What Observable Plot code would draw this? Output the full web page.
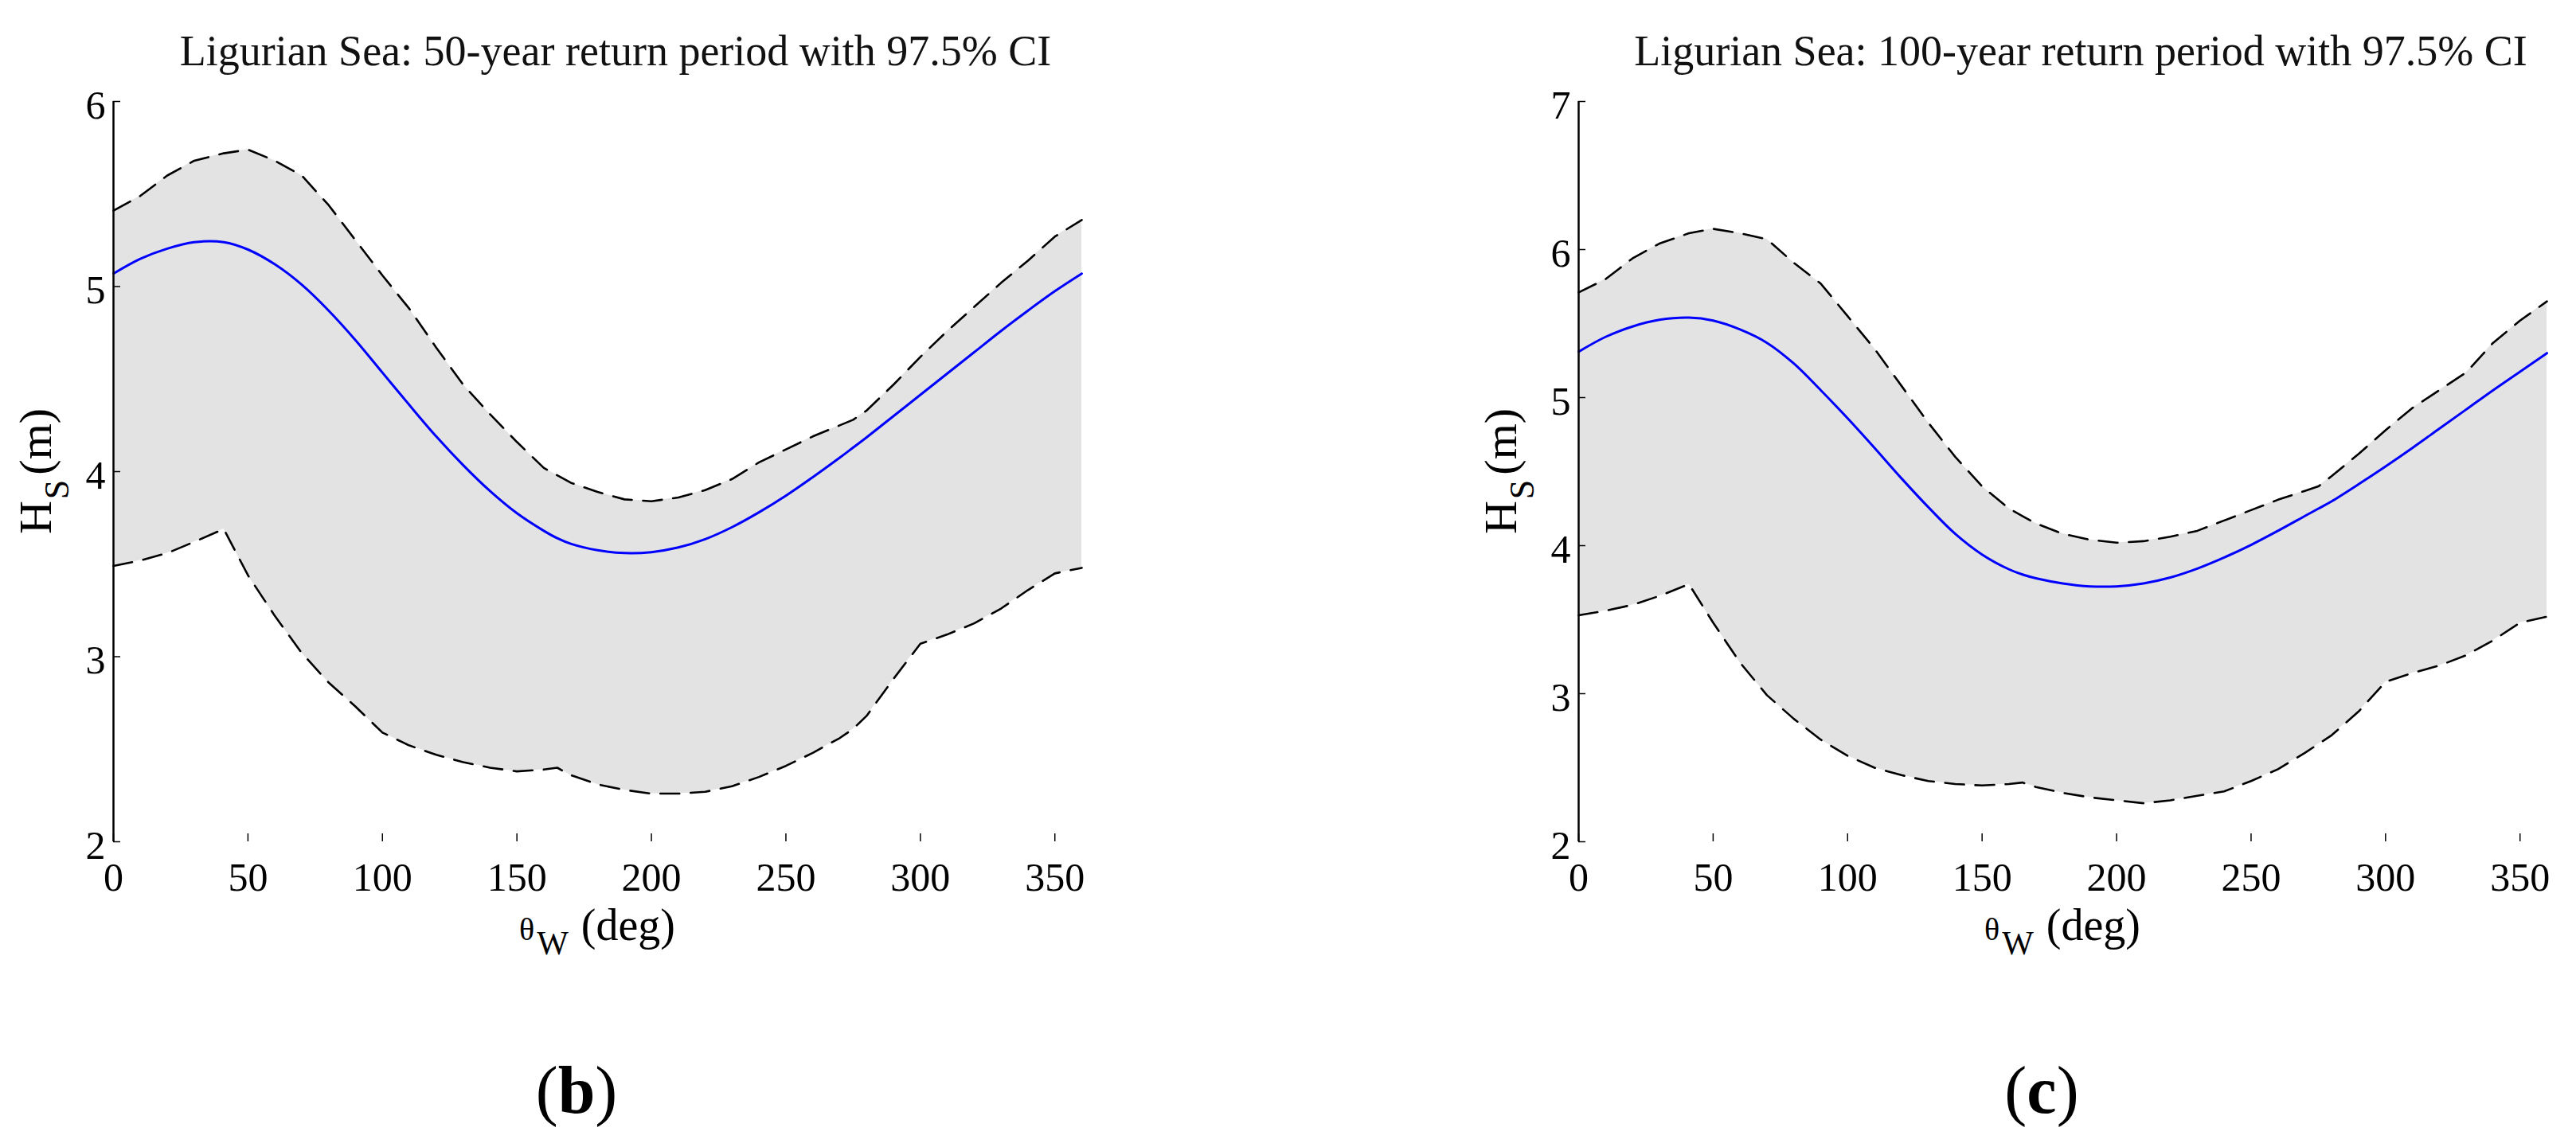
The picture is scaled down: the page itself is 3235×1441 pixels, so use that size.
<!DOCTYPE html>
<html>
<head>
<meta charset="utf-8">
<script src="https://cdn.jsdelivr.net/npm/d3@7"></script>
<script src="https://cdn.jsdelivr.net/npm/@observablehq/plot@0.6"></script>
<style>
  html, body { margin: 0; padding: 0; background: #fff; }
  body { width: 3235px; height: 1441px; position: relative; overflow: hidden;
         font-family: 'Liberation Serif', serif; color: #000; }
  .panel { position: absolute; top: 0; height: 1441px; }
  .title { position: absolute; top: 37px; font-size: 54px; line-height: 54px;
           text-align: center; white-space: nowrap; color: #111; }
  .plot { position: absolute; top: 100px; left: 0; }
  .tag { position: absolute; top: 1328px; font-size: 84px; line-height: 84px;
         text-align: center; white-space: nowrap; }
</style>
</head>
<body>
<script>
// ---- data ----
const theta = [0, 10, 20, 30, 41, 50, 60, 70, 80, 90, 100, 110, 120, 130, 140, 150, 160, 165, 170, 180,
               190, 200, 210, 220, 230, 240, 250, 260, 270, 275, 280, 290, 300, 310, 320, 330, 340, 350, 360];

// 50-year return period (panel b)
const upper50 = [5.41, 5.49, 5.60, 5.68, 5.72, 5.74, 5.68, 5.60, 5.44, 5.25, 5.06, 4.88, 4.67, 4.47, 4.31, 4.16, 4.02, 3.98, 3.94, 3.89,
                 3.85, 3.84, 3.86, 3.90, 3.96, 4.05, 4.12, 4.19, 4.25, 4.28, 4.33, 4.47, 4.62, 4.76, 4.89, 5.02, 5.14, 5.27, 5.36];
const lower50 = [3.49, 3.52, 3.56, 3.62, 3.69, 3.44, 3.22, 3.02, 2.86, 2.73, 2.59, 2.52, 2.47, 2.43, 2.40, 2.38, 2.39, 2.40, 2.36, 2.31,
                 2.28, 2.26, 2.26, 2.27, 2.30, 2.35, 2.41, 2.48, 2.56, 2.61, 2.68, 2.88, 3.07, 3.12, 3.18, 3.26, 3.36, 3.45, 3.48];
const mid50   = [5.07, 5.15, 5.205, 5.24, 5.24, 5.20, 5.12, 5.01, 4.87, 4.71, 4.535, 4.36, 4.19, 4.035, 3.895, 3.775, 3.68, 3.64, 3.61, 3.575,
                 3.56, 3.565, 3.59, 3.635, 3.70, 3.78, 3.87, 3.97, 4.075, 4.13, 4.185, 4.30, 4.415, 4.53, 4.645, 4.76, 4.87, 4.975, 5.07];

// 100-year return period (panel c)
const upper100 = [5.71, 5.80, 5.94, 6.04, 6.11, 6.14, 6.11, 6.07, 5.91, 5.77, 5.55, 5.33, 5.08, 4.83, 4.60, 4.40, 4.25, 4.20, 4.15, 4.08,
                  4.04, 4.02, 4.03, 4.06, 4.10, 4.17, 4.24, 4.31, 4.37, 4.40, 4.47, 4.62, 4.78, 4.93, 5.05, 5.17, 5.37, 5.52, 5.65];
const lower100 = [3.53, 3.56, 3.60, 3.66, 3.74, 3.48, 3.21, 2.99, 2.83, 2.69, 2.58, 2.50, 2.45, 2.41, 2.39, 2.38, 2.39, 2.40, 2.37, 2.33,
                  2.30, 2.28, 2.26, 2.28, 2.31, 2.34, 2.41, 2.49, 2.60, 2.66, 2.72, 2.88, 3.08, 3.14, 3.19, 3.26, 3.36, 3.48, 3.52];
const mid100   = [5.31, 5.41, 5.48, 5.525, 5.54, 5.52, 5.46, 5.37, 5.23, 5.05, 4.86, 4.66, 4.455, 4.26, 4.08, 3.94, 3.84, 3.805, 3.78, 3.745,
                  3.725, 3.725, 3.745, 3.785, 3.845, 3.92, 4.005, 4.10, 4.20, 4.25, 4.30, 4.415, 4.535, 4.66, 4.79, 4.92, 5.05, 5.175, 5.30];

const xDomain = [0, 360];
const xTicks = [0, 50, 100, 150, 200, 250, 300, 350];
const yDomain50 = [2, 6];
const yTicks50 = [2, 3, 4, 5, 6];
const yDomain100 = [2, 7];
const yTicks100 = [2, 3, 4, 5, 6, 7];
const titles = ["Ligurian Sea: 50-year return period with 97.5% CI",
                "Ligurian Sea: 100-year return period with 97.5% CI"];
const tags = ["b", "c"];

// ---- layout ----
const ML = 142, PW = 1216;

function panel({left, width, upper, lower, mid, yDomain, yTicks, title, tag}) {
  const div = document.createElement("div");
  div.className = "panel";
  div.style.left = left + "px";
  div.style.width = width + "px";
  document.body.appendChild(div);

  const rows = theta.map((t, i) => ({t, hi: upper[i], lo: lower[i], mid: mid[i]}));

  const chart = Plot.plot({
    width: width,
    height: 1110,
    marginLeft: ML,
    marginRight: width - ML - PW,
    marginTop: 27,
    marginBottom: 153,
    x: {domain: xDomain},
    y: {domain: yDomain},
    style: {fontFamily: "'Liberation Serif', serif", fontSize: "50px", color: "#000",
            background: "transparent", overflow: "visible"},
    marks: [
      Plot.areaY(rows, {x: "t", y1: "lo", y2: "hi", fill: "#e3e3e3"}),
      Plot.lineY(rows, {x: "t", y: "hi", stroke: "#000", strokeWidth: 2.6, strokeDasharray: "24,14"}),
      Plot.lineY(rows, {x: "t", y: "lo", stroke: "#000", strokeWidth: 2.6, strokeDasharray: "24,14"}),
      Plot.lineY(rows, {x: "t", y: "mid", stroke: "#0000ff", strokeWidth: 3, curve: "catmull-rom"}),
      Plot.ruleX([xDomain[0]], {stroke: "#000", strokeWidth: 2.5}),
      Plot.axisX(xTicks, {anchor: "bottom", tickSize: -10, tickPadding: 36, strokeWidth: 1.5,
                          tickFormat: "d", label: null, fontSize: 50}),
      Plot.axisY(yTicks, {anchor: "left", tickSize: -9, tickFormat: () => "", strokeWidth: 1.5, label: null}),
      Plot.axisY(yTicks, {anchor: "left", tickSize: 0, tickPadding: 10, dy: 5, tickFormat: "d",
                          label: null, fontSize: 50})
    ]
  });
  chart.classList.add("plot");
  div.appendChild(chart);

  // axis labels with subscripts
  const xr = chart.scale("x").range, yr = chart.scale("y").range;
  const svg = d3.select(chart);
  const yl = svg.append("text")
    .attr("transform", `translate(${xr[0] - 78},${(yr[0] + yr[1]) / 2}) rotate(-90)`)
    .attr("text-anchor", "middle").attr("font-size", 58).attr("fill", "#000");
  yl.append("tspan").text("H");
  yl.append("tspan").attr("font-size", 44).attr("dx", 2).attr("dy", 22).text("S");
  yl.append("tspan").attr("dx", 6).attr("dy", -22).text("(m)");

  const xl = svg.append("text")
    .attr("transform", `translate(${(xr[0] + xr[1]) / 2},${yr[0] + 124})`)
    .attr("text-anchor", "middle").attr("font-size", 56).attr("fill", "#000");
  xl.append("tspan").attr("font-size", 40).text("θ");
  xl.append("tspan").attr("font-size", 42).attr("dx", 3).attr("dy", 18).text("W");
  xl.append("tspan").attr("dx", 16).attr("dy", -18).text("(deg)");

  const t = document.createElement("div");
  t.className = "title";
  t.style.left = (ML + 23) + "px";
  t.style.width = PW + "px";
  t.textContent = title;
  div.appendChild(t);

  const g = document.createElement("div");
  g.className = "tag";
  g.style.left = (ML - 26) + "px";
  g.style.width = PW + "px";
  g.innerHTML = `(<b>${tag}</b>)`;
  div.appendChild(g);
}

panel({left: 0, width: 1600, upper: upper50, lower: lower50, mid: mid50,
       yDomain: yDomain50, yTicks: yTicks50, title: titles[0], tag: tags[0]});
panel({left: 1840, width: 1395, upper: upper100, lower: lower100, mid: mid100,
       yDomain: yDomain100, yTicks: yTicks100, title: titles[1], tag: tags[1]});
</script>
</body>
</html>
